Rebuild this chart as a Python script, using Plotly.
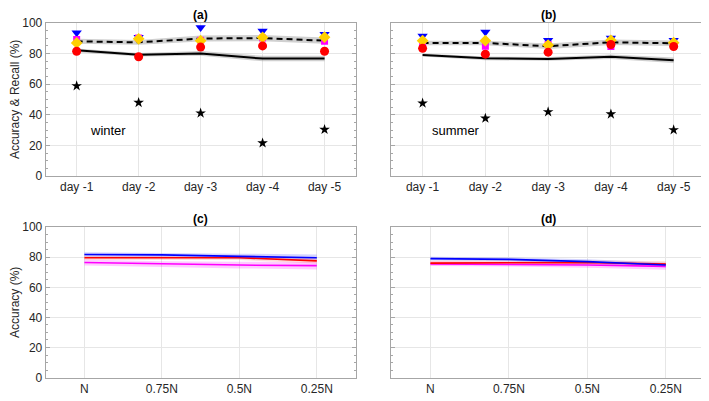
import plotly.graph_objects as go

days = ["day -1", "day -2", "day -3", "day -4", "day -5"]
fracs = ["N", "0.75N", "0.5N", "0.25N"]
yticks = [0, 20, 40, 60, 80, 100]

# panel (a) winter
a_blue = [93.5, 90.6, 96.9, 94.6, 92.5]
a_mag = [89.0, 90.0, 88.5, 90.0, 88.0]
a_yel = [86.8, 89.5, 88.3, 90.4, 90.6]
a_red = [81.4, 77.8, 84.1, 84.9, 81.4]
a_star = [58.8, 47.9, 41.0, 21.5, 30.3]
a_dash = [87.9, 87.2, 89.7, 90.0, 88.3]
a_dash_err = [1.6, 1.6, 2.0, 2.0, 2.0]
a_solid = [82.0, 79.1, 80.0, 76.6, 76.6]
a_solid_err = [1.2, 1.2, 1.5, 1.8, 1.8]

# panel (b) summer
b_blue = [91.4, 93.9, 88.5, 90.0, 88.5]
b_mag = [85.1, 84.7, 85.8, 84.5, 86.4]
b_yel = [88.3, 88.3, 85.4, 88.5, 87.0]
b_red = [83.3, 79.5, 80.8, 85.8, 84.5]
b_star = [47.5, 37.7, 41.8, 40.4, 30.1]
b_dash = [86.8, 86.8, 84.7, 87.2, 86.6]
b_dash_err = [1.5, 1.5, 1.8, 1.8, 1.8]
b_solid = [78.9, 76.8, 76.4, 77.8, 75.5]
b_solid_err = [1.0, 1.2, 1.2, 1.4, 1.8]

# panel (c)
c_blue = [81.8, 81.6, 80.6, 79.7]
c_red = [79.7, 79.7, 79.7, 77.6]
c_mag = [76.5, 75.4, 74.8, 74.4]
c_blue_err = [1.5, 1.5, 1.8, 2.2]
c_red_err = [1.5, 1.5, 1.5, 1.8]
c_mag_err = [2.0, 2.0, 2.2, 2.5]

# panel (d)
d_blue = [79.1, 78.6, 77.1, 74.8]
d_red = [76.1, 76.1, 76.5, 75.4]
d_mag = [75.6, 75.4, 74.8, 73.9]
d_blue_err = [1.2, 1.2, 1.5, 1.5]
d_red_err = [1.5, 1.5, 1.5, 2.0]
d_mag_err = [1.5, 1.5, 1.8, 2.2]

fig = go.Figure()

def band(x, y, err, color, xa, ya):
    up = [v + e for v, e in zip(y, err)]
    lo = [v - e for v, e in zip(y, err)]
    fig.add_trace(go.Scatter(x=x, y=up, mode="lines", line=dict(width=0, color=color),
                             xaxis=xa, yaxis=ya, showlegend=False, hoverinfo="skip"))
    fig.add_trace(go.Scatter(x=x, y=lo, mode="lines", line=dict(width=0, color=color),
                             fill="tonexty", fillcolor=color,
                             xaxis=xa, yaxis=ya, showlegend=False, hoverinfo="skip"))

def line(x, y, color, dash, xa, ya, width=2):
    fig.add_trace(go.Scatter(x=x, y=y, mode="lines", line=dict(color=color, width=width, dash=dash),
                             xaxis=xa, yaxis=ya, showlegend=False))

def pts(x, y, color, symbol, size, xa, ya):
    fig.add_trace(go.Scatter(x=x, y=y, mode="markers",
                             marker=dict(color=color, symbol=symbol, size=size, line=dict(width=0)),
                             xaxis=xa, yaxis=ya, showlegend=False))

gray_band = "rgba(150,150,150,0.45)"
for (xa, ya, dash, derr, solid, serr, blue, mag, yel, red, star) in [
    ("x", "y", a_dash, a_dash_err, a_solid, a_solid_err, a_blue, a_mag, a_yel, a_red, a_star),
    ("x2", "y2", b_dash, b_dash_err, b_solid, b_solid_err, b_blue, b_mag, b_yel, b_red, b_star),
]:
    band(days, dash, derr, gray_band, xa, ya)
    band(days, solid, serr, gray_band, xa, ya)
    line(days, dash, "black", "6px,4px", xa, ya)
    line(days, solid, "black", "solid", xa, ya)
    pts(days, blue, "#0000FF", "triangle-down", 9, xa, ya)
    pts(days, mag, "#FF00FF", "square", 7, xa, ya)
    pts(days, yel, "#FFD000", "diamond", 9, xa, ya)
    pts(days, red, "#FF0000", "circle", 9, xa, ya)
    pts(days, star, "black", "star", 8, xa, ya)

for (xa, ya, bl, ble, rd, rde, mg, mge) in [
    ("x3", "y3", c_blue, c_blue_err, c_red, c_red_err, c_mag, c_mag_err),
    ("x4", "y4", d_blue, d_blue_err, d_red, d_red_err, d_mag, d_mag_err),
]:
    band(fracs, bl, ble, "rgba(80,80,255,0.25)", xa, ya)
    band(fracs, mg, mge, "rgba(255,0,255,0.2)", xa, ya)
    band(fracs, rd, rde, "rgba(255,80,80,0.2)", xa, ya)
    line(fracs, mg, "#FF00FF", "solid", xa, ya, 1.6)
    line(fracs, rd, "#FF0000", "solid", xa, ya, 1.6)
    line(fracs, bl, "#0000FF", "solid", xa, ya, 1.6)

font = dict(family="Liberation Sans, Arial, sans-serif", size=12, color="#262626")
frame = "#A6A6A6"
grid = "#E6E6E6"

def xaxis(domain, anchor, n):
    return dict(domain=domain, anchor=anchor, range=[-0.5, n - 0.5], showline=True, linecolor=frame,
                linewidth=1, mirror=True, showgrid=True, gridcolor=grid, zeroline=False,
                ticks="", tickfont=font, type="category")

def yaxis(domain, anchor, labels):
    return dict(domain=domain, anchor=anchor, range=[0, 100], tickvals=yticks,
                ticktext=[str(v) for v in yticks] if labels else [""] * len(yticks),
                showline=True, linecolor=frame, linewidth=1, mirror="ticks", showgrid=True,
                gridcolor=grid, zeroline=False, ticks="inside", ticklen=4, tickcolor=frame,
                minor=dict(dtick=5, ticks="inside", ticklen=2, tickcolor=frame, showgrid=False),
                tickfont=font)

# page body adds an 8px offset, so the figure is laid out 8px up/left of the target
xl, xr = [0.0442, 0.4907], [0.5421, 0.9943]
yt, yb = [0.5751, 0.9796], [0.0433, 0.4402]

fig.update_layout(
    width=701, height=393, margin=dict(l=0, r=0, t=0, b=0),
    paper_bgcolor="white", plot_bgcolor="white", showlegend=False,
    xaxis=xaxis(xl, "y", 5), yaxis=yaxis(yt, "x", True),
    xaxis2=xaxis(xr, "y2", 5), yaxis2=yaxis(yt, "x2", False),
    xaxis3=xaxis(xl, "y3", 4), yaxis3=yaxis(yb, "x3", True),
    xaxis4=xaxis(xr, "y4", 4), yaxis4=yaxis(yb, "x4", False),
)
fig.layout.yaxis.title = dict(text="Accuracy & Recall (%)", font=font, standoff=6)
fig.layout.yaxis3.title = dict(text="Accuracy (%)", font=font, standoff=6)

for txt, xa, ya in [("(a)", "x", "y"), ("(b)", "x2", "y2"), ("(c)", "x3", "y3"), ("(d)", "x4", "y4")]:
    fig.add_annotation(text="<b>" + txt + "</b>", xref=xa + " domain", yref=ya + " domain",
                       x=0.5, y=1.0, yanchor="bottom", showarrow=False,
                       font=dict(family=font["family"], size=12, color="black"), yshift=-1)

fig.add_annotation(text="winter", xref="x", yref="y", x=0.51, y=29.7, showarrow=False,
                   font=dict(family=font["family"], size=13, color="black"))
fig.add_annotation(text="summer", xref="x2", yref="y2", x=0.54, y=29.7, showarrow=False,
                   font=dict(family=font["family"], size=13, color="black"))

fig.write_html("out.html")
